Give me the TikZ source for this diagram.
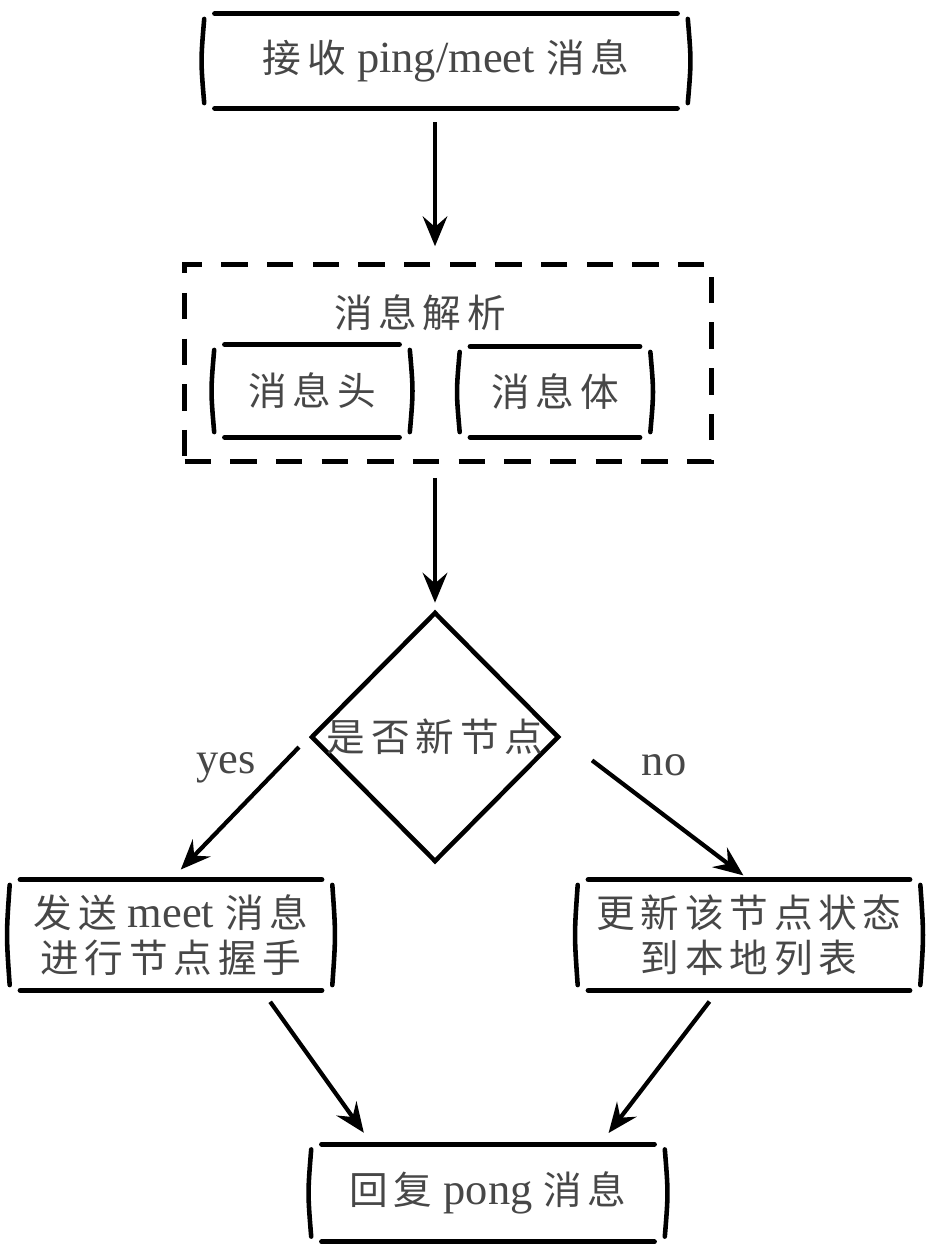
\documentclass[tikz,border=0pt]{standalone}
\usepackage{fontspec}
\setmainfont{Liberation Serif}[Scale=1.15]
\newfontfamily\cjk[LetterSpace=15]{Noto Sans CJK SC}
\newcommand{\zh}[1]{{\cjk #1}}
\usetikzlibrary{arrows.meta,shapes.geometric}

\tikzset{
  txt/.style={font=\fontsize{22}{25.6}\selectfont, text=black!72, align=center, inner sep=0pt},
  rim/.style={line width=3pt, line cap=round},
  side/.style={line width=2.6pt, line cap=round},
  flow/.style={line width=2.4pt, -{Stealth[length=17pt,width=14pt,inset=6pt]}},
  dashbox/.style={draw, line width=2.8pt, dash pattern=on 15pt off 11pt},
  decide/.style={diamond, draw, line width=2.6pt, minimum width=4.96cm, minimum height=5cm, inner sep=0pt},
}

% hand drawn frame round a node
\newcommand{\handframe}[1]{%
  \draw[rim] ([xshift=6pt]#1.north west) -- ([xshift=-6pt]#1.north east);
  \draw[rim] ([xshift=6pt]#1.south west) -- ([xshift=-6pt]#1.south east);
  \draw[side] ([yshift=-3pt]#1.north west) .. controls ([xshift=-2pt]#1.west) .. ([yshift=3pt]#1.south west);
  \draw[side] ([yshift=-3pt]#1.north east) .. controls ([xshift=2pt]#1.east) .. ([yshift=3pt]#1.south east);
}

\begin{document}
\begin{tikzpicture}[x=0.02cm, y=-0.02cm]
        \fill[white] (0,0) rectangle (948,1256);
        \useasboundingbox (0,0) rectangle (948,1256);

        \node[txt, minimum width=9.66cm, minimum height=1.88cm] (top) at (446,61) {\zh{接收} ping/meet \zh{消息}};
        \node[dashbox, minimum width=10.54cm, minimum height=3.94cm] (parse) at (448,363) {};
        \node[txt] (title) at (420,313) {\zh{消息解析}};
        \node[txt, minimum width=3.9cm, minimum height=1.84cm] (head) at (312,391) {\zh{消息头}};
        \node[txt, minimum width=3.8cm, minimum height=1.8cm] (body) at (555,392) {\zh{消息体}};
        \node[decide, label={[txt]center:\zh{是否新节点}}] (check) at (435,737) {};
        \node[txt, minimum width=6.44cm, minimum height=2.2cm] (hand) at (171,935) {\zh{发送} meet \zh{消息}\\\zh{进行节点握手}};
        \node[txt, minimum width=6.84cm, minimum height=2.2cm] (update) at (749,935) {\zh{更新该节点状态}\\\zh{到本地列表}};
        \node[txt, minimum width=7.06cm, minimum height=1.94cm] (reply) at (488,1193) {\zh{回复} pong \zh{消息}};
        \node[txt] (yes) at (226,768) {yes};
        \node[txt] (no) at (664,765) {no};

        \handframe{top}
        \handframe{head}
        \handframe{body}
        \handframe{hand}
        \handframe{update}
        \handframe{reply}

        \draw[flow, shorten <=8pt, shorten >=9pt] (top.south -| check.north) -- (parse.north -| check.north);
        \draw[flow, shorten <=8pt, shorten >=4pt] (parse.south -| check.north) -- (check.north);
        \draw[flow, shorten <=8pt, shorten >=8pt] (check.west) -- (hand.north);
        \draw[flow, shorten <=22pt, shorten >=4pt] (check.east) -- (update.north);
        \draw[flow, shorten <=8pt, shorten >=8pt] ([shift={(91,0)}]hand.south) -- ([shift={(-116,0)}]reply.north);
        \draw[flow, shorten <=8pt, shorten >=8pt] ([shift={(-31,0)}]update.south) -- ([shift={(112,0)}]reply.north);
      \end{tikzpicture}
\end{document}
